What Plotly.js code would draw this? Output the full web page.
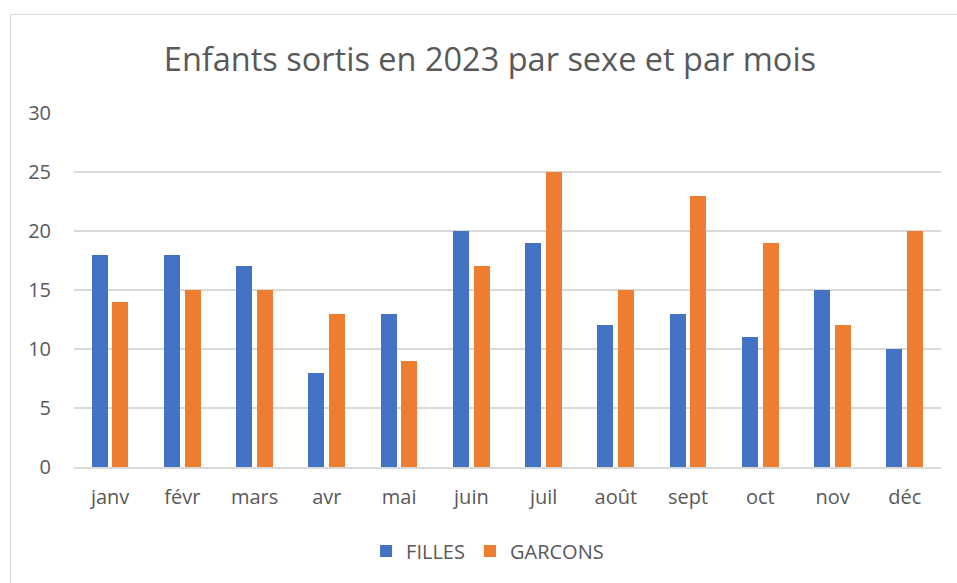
<!DOCTYPE html>
<html><head><meta charset="utf-8">
<script src="https://cdn.plot.ly/plotly-3.0.1.min.js"></script>
<style>
html,body{margin:0;padding:0;background:#fff;overflow:hidden}
#frame{position:absolute;left:10px;top:14px;width:960px;height:600px;border-left:1.5px solid #d9d9d9;border-top:1.5px solid #d9d9d9;pointer-events:none}
#chart{position:absolute;left:0;top:0;width:957px;height:583px}
</style></head>
<body>
<div id="chart"></div>
<div id="frame"></div>
<script>
const months = ["janv","févr","mars","avr","mai","juin","juil","août","sept","oct","nov","déc"];
const filles = [18,18,17,8,13,20,19,12,13,11,15,10];
const garcons = [14,15,15,13,9,17,25,15,23,19,12,20];
const yTicks = [0,5,10,15,20,25,30];

const font = "Open Sans, Liberation Sans, sans-serif";
const traces = [
  {type:"bar", name:"FILLES", x:months, y:filles, marker:{color:"#4472C4"}, width:0.222, offset:-0.255},
  {type:"bar", name:"GARCONS", x:months, y:garcons, marker:{color:"#ED7D31"}, width:0.222, offset:0.031}
];
const layout = {
  width:957, height:583,
  margin:{l:74, r:16, t:113, b:116},
  paper_bgcolor:"#fff", plot_bgcolor:"#fff",
  barmode:"overlay",
  title:{text:"Enfants sortis en 2023 par sexe et par mois", x:0.512, xanchor:"center", y:0.897, yanchor:"middle",
         font:{family:font, size:32.5, color:"#595959"}},
  xaxis:{type:"category", tickfont:{family:font, size:20, color:"#595959"}, showgrid:false,
         showline:true, linecolor:"#d9d9d9", linewidth:1.5, ticks:"", ticklabelstandoff:11},
  yaxis:{range:[0,30], tickvals:yTicks, ticktext:yTicks.map(String), tickfont:{family:font, size:20, color:"#595959"},
         showgrid:true, gridcolor:"#d9d9d9", gridwidth:1.3, zeroline:false, showline:false, ticks:"", ticklabelstandoff:22},
  showlegend:true,
  legend:{orientation:"h", x:0.477, xanchor:"center", y:-0.237, yanchor:"middle",
          font:{family:font, size:20, color:"#595959"}, traceorder:"normal", itemwidth:30},
  bargap:0
};
Plotly.newPlot("chart", traces, layout, {displayModeBar:false, staticPlot:true});
</script>
</body></html>
